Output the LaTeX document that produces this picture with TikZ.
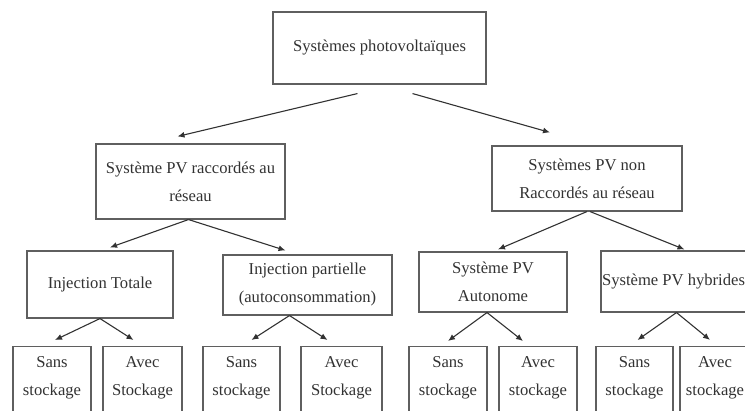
\documentclass[tikz,border=0pt]{standalone}
\usepackage{fontspec}
\setmainfont{Liberation Serif}
\usetikzlibrary{arrows.meta,positioning}
\usepackage{xcolor}
\definecolor{BoxGray}{RGB}{95,95,95}
\definecolor{InkGray}{RGB}{50,50,50}

\begin{document}
\begin{tikzpicture}[x=1pt,y=-1pt,box/.style={rectangle,draw=BoxGray,line width=1.1pt,align=center,inner sep=0pt,text=InkGray,font=\fontsize{16.6}{28}\selectfont},leaf/.style={box,anchor=north,inner xsep=0pt,inner ysep=10pt,text depth=60pt},arrow/.style={-{Latex[length=7pt,width=6pt]},draw=InkGray,line width=1.1pt}]
\path[use as bounding box,clip](0,0) rectangle (745,411);
% top
\node[box,minimum width=213pt,minimum height=72pt](top) at (379.5,48){Systèmes photovoltaïques};
% level 2
\node[box,minimum width=189pt,minimum height=75pt](rac) at (190.5,181.5){Système PV raccordés au\\réseau};
\node[box,minimum width=190pt,minimum height=65pt](nrac) at (587,178.5){Systèmes PV non\\Raccordés au réseau};
% level 3
\node[box,minimum width=146pt,minimum height=67pt](injt) at (100,284.5){Injection Totale};
\node[box,minimum width=169pt,minimum height=60pt](injp) at (307.5,285){Injection partielle\\(autoconsommation)};
\node[box,minimum width=148pt,minimum height=60pt](auto) at (493,282){Système PV\\Autonome};
\node[box,minimum width=145pt,minimum height=61pt](hyb) at (673.5,281.5){Système PV hybrides};
% level 4
\node[leaf,minimum width=78pt](sa) at (52,346){Sans\\stockage};
\node[leaf,minimum width=79pt](aa) at (142.5,346){Avec\\Stockage};
\node[leaf,minimum width=77pt](sb) at (241.5,346){Sans\\stockage};
\node[leaf,minimum width=81pt](ab) at (341.5,346){Avec\\Stockage};
\node[leaf,minimum width=78pt](sc) at (448,346){Sans\\stockage};
\node[leaf,minimum width=78pt](ac) at (538,346){Avec\\stockage};
\node[leaf,minimum width=77pt](sd) at (634.5,346){Sans\\stockage};
\node[leaf,minimum width=70pt](ad) at (715,346){Avec\\stockage};
% arrows
\draw[arrow]([xshift=-22pt,yshift=-9pt]top.south)--([xshift=-13pt,yshift=7pt]rac.north);
\draw[arrow]([xshift=33pt,yshift=-9pt]top.south)--([xshift=-37pt,yshift=13pt]nrac.north);
\foreach \x/\y/\s/\e/\d in {rac/injt/-2/10/3,rac/injp/-2/-22/4,nrac/auto/0/5/2,nrac/hyb/3/11/1,injt/sa/0/3/6,injt/aa/0/-9/6,injp/sb/-18/10/6,injp/ab/-18/-14/6,auto/sc/-6/0/5,auto/ac/-6/-15/5,hyb/sd/3/3/6,hyb/ad/3/-5/6}{\draw[arrow]([xshift=\s pt]\x.south)--([xshift=\e pt,yshift=\d pt]\y.north);}
\end{tikzpicture}
\end{document}
